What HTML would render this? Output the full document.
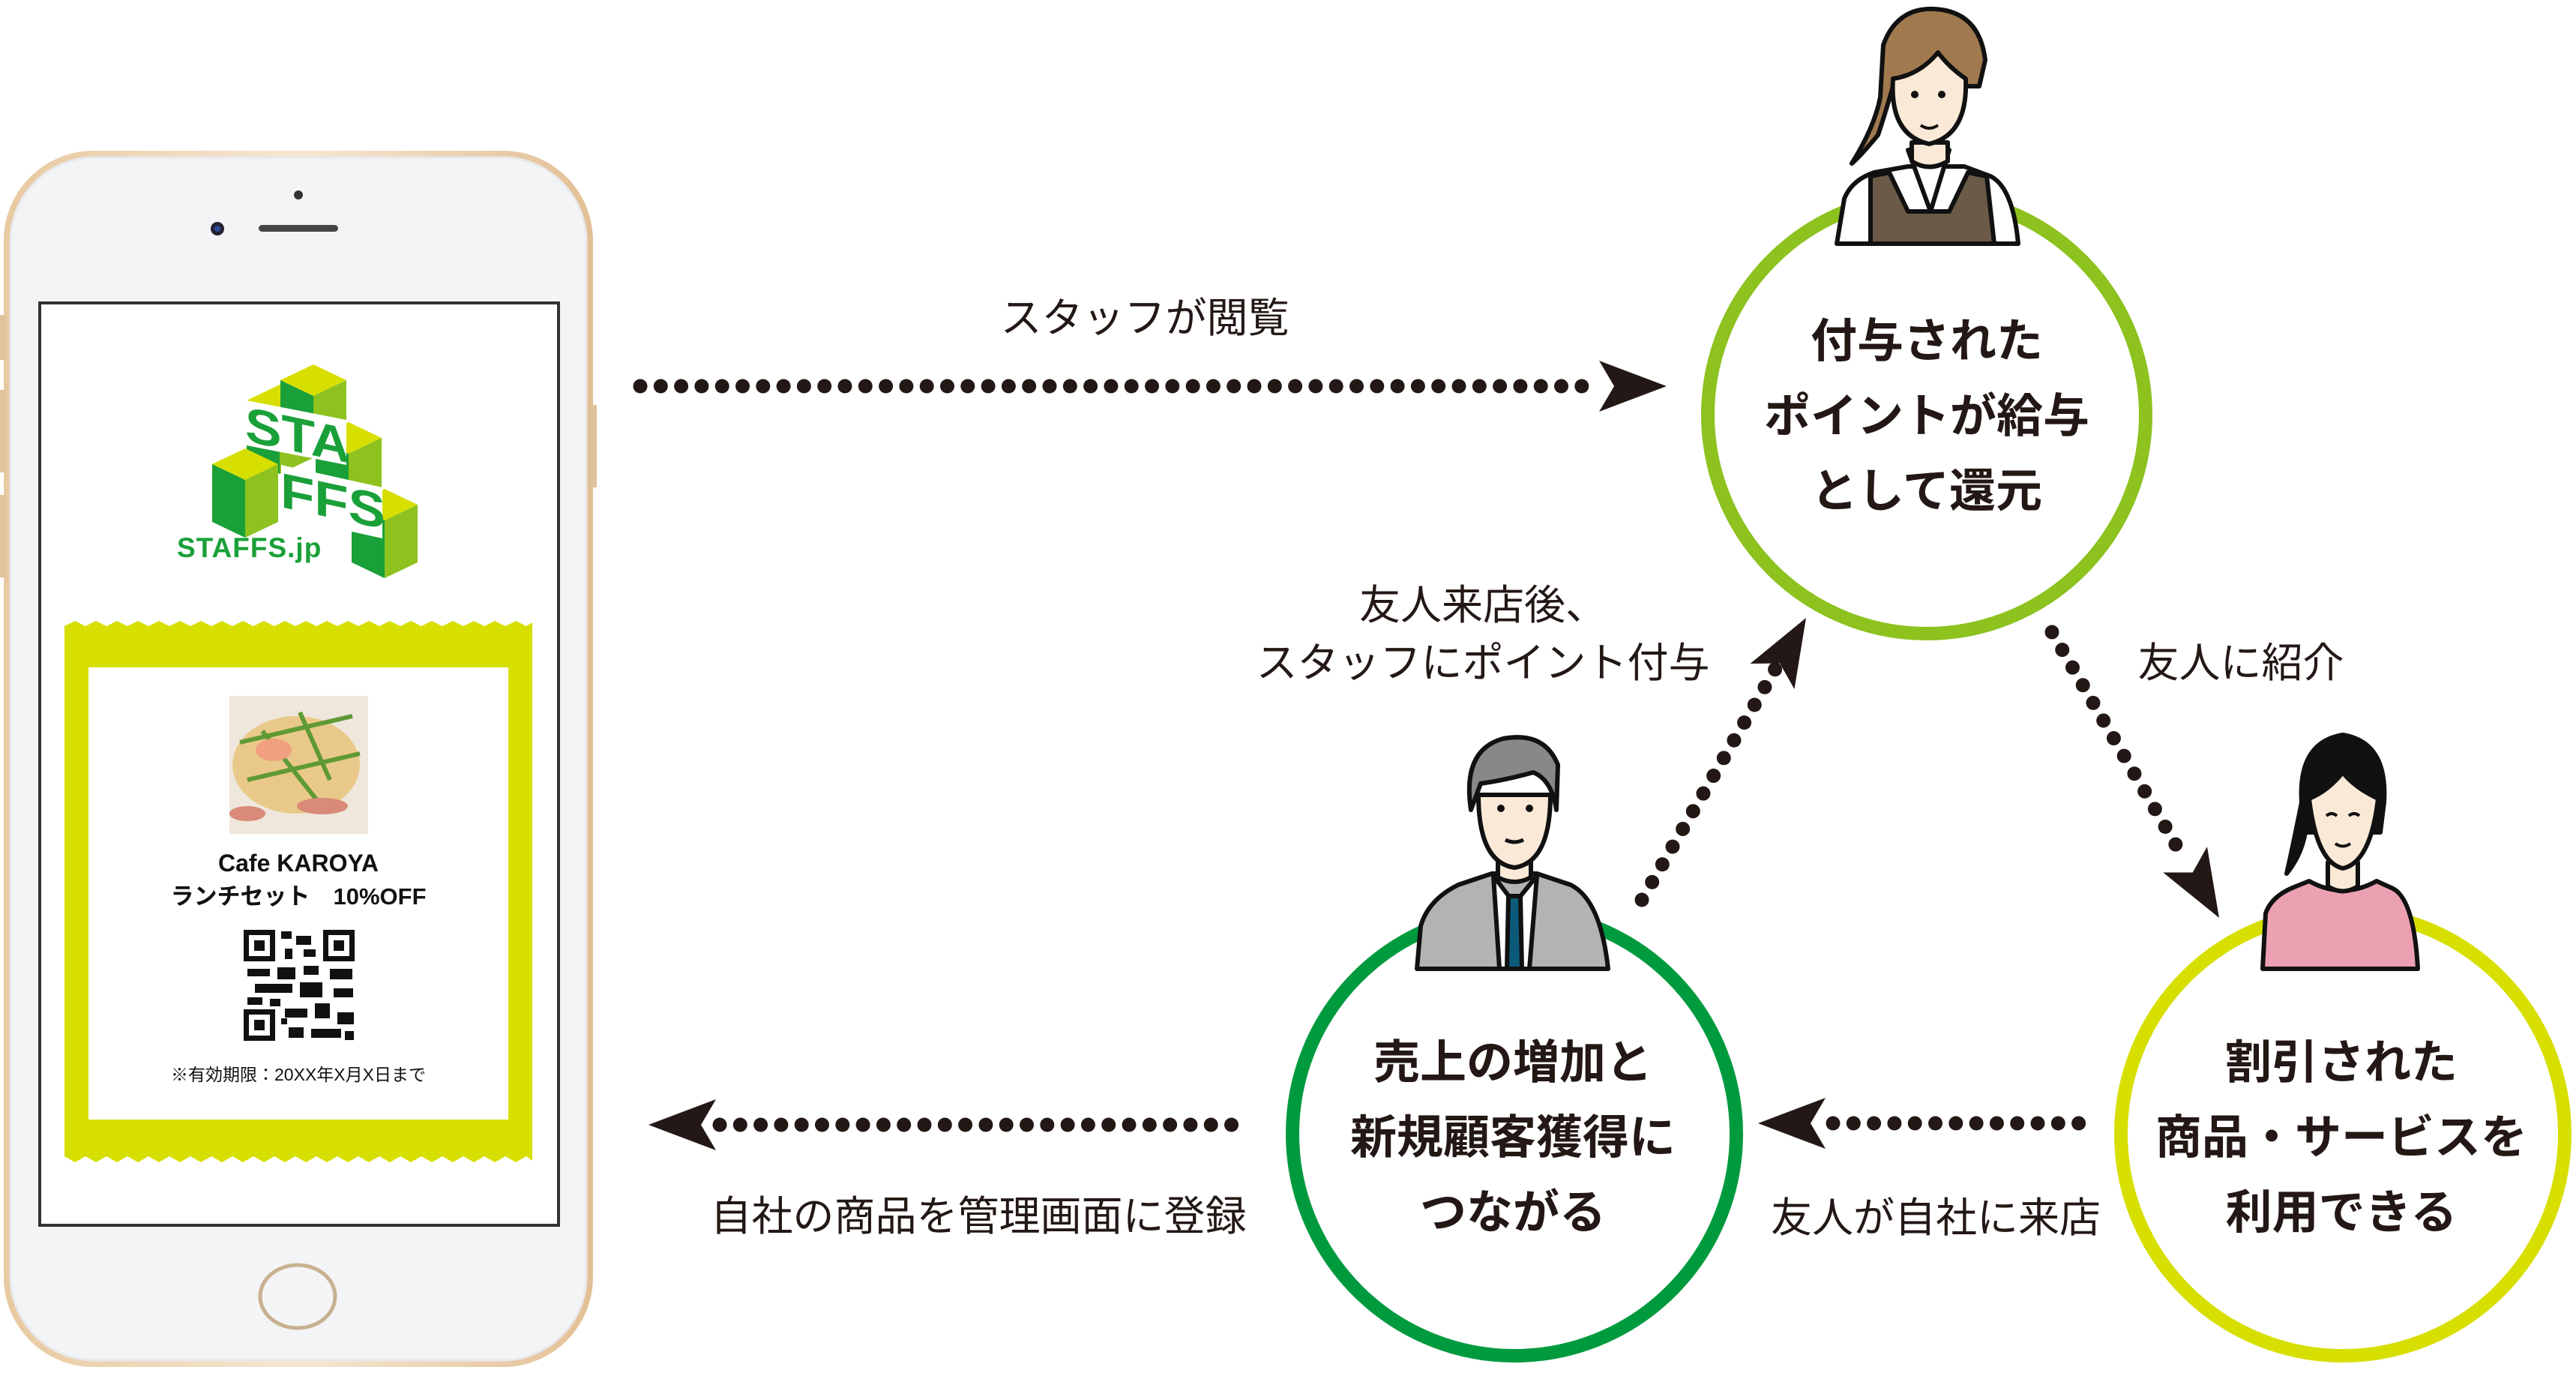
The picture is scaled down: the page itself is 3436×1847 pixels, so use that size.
<!DOCTYPE html>
<html><head><meta charset="utf-8">
<style>
html,body{margin:0;padding:0;background:#fff;}
body{width:3436px;height:1847px;overflow:hidden;position:relative;font-family:"Liberation Sans","Noto Sans CJK JP",sans-serif;}
svg{position:absolute;left:0;top:0;}
</style></head><body>
<svg width="3436" height="1847" viewBox="0 0 3436 1847" xmlns="http://www.w3.org/2000/svg">
<defs>
<linearGradient id="gold" x1="0" y1="0" x2="1" y2="0">
<stop offset="0" stop-color="#e8c9a0"/><stop offset="0.5" stop-color="#f6e7d2"/><stop offset="1" stop-color="#e2c096"/>
</linearGradient>
<g id="cube">
<polygon points="0,0 44,-21 88,0 44,21" fill="#d7df01"/>
<polygon points="0,0 44,21 44,98 0,77" fill="#1aa038"/>
<polygon points="44,21 88,0 88,77 44,98" fill="#8dc21f"/>
</g>
</defs>
<!-- PHONE -->
<rect x="5" y="201" width="786" height="1622" rx="120" fill="url(#gold)"/>
<rect x="14" y="210" width="768" height="1604" rx="112" fill="#f3f4f6" stroke="#e9e9ec" stroke-width="3"/>
<rect x="0" y="420" width="8" height="60" fill="#e0c29c"/>
<rect x="0" y="520" width="8" height="110" fill="#e0c29c"/>
<rect x="0" y="660" width="8" height="110" fill="#e0c29c"/>
<rect x="788" y="540" width="8" height="110" fill="#e0c29c"/>
<circle cx="398" cy="260" r="6" fill="#333"/>
<circle cx="290" cy="305" r="9" fill="#223" /><circle cx="290" cy="305" r="4" fill="#2b4a9a"/>
<rect x="345" y="300" width="106" height="9" rx="4.5" fill="#444"/>
<rect x="53" y="404" width="692" height="1230" fill="#fff" stroke="#333" stroke-width="4"/>
<ellipse cx="397" cy="1729" rx="50" ry="42" fill="#f3f4f6" stroke="#c8b190" stroke-width="5"/>
<!-- logo cubes -->
<use href="#cube" transform="translate(329 534)"/>
<use href="#cube" transform="translate(374 507)"/>
<use href="#cube" transform="translate(421 584)"/>
<use href="#cube" transform="translate(283 619)"/>
<use href="#cube" transform="translate(469 673)"/>
<polygon points="329,534 462,560 462,620 329,594" fill="#fff"/>
<polygon points="375,620 510,650 510,718 375,688" fill="#fff"/>
<text x="0" y="0" font-size="66" font-weight="900" fill="#1aa038" font-family="Liberation Sans,sans-serif" transform="translate(327 588) skewY(12)" textLength="140" lengthAdjust="spacingAndGlyphs">STA</text>
<text x="0" y="0" font-size="66" font-weight="900" fill="#1aa038" font-family="Liberation Sans,sans-serif" transform="translate(374 676) skewY(12)" textLength="140" lengthAdjust="spacingAndGlyphs">FFS</text>
<text x="236" y="743" font-size="37" font-weight="bold" fill="#1aa038" font-family="Liberation Sans,sans-serif" letter-spacing="1">STAFFS.jp</text>
<!-- coupon -->
<polygon points="86,835 100,828 114,835 128,828 142,835 156,828 170,835 184,828 198,835 212,828 226,835 240,828 254,835 268,828 282,835 296,828 310,835 324,828 338,835 352,828 366,835 380,828 394,835 408,828 422,835 436,828 450,835 464,828 478,835 492,828 506,835 520,828 534,835 548,828 562,835 576,828 590,835 604,828 618,835 632,828 646,835 660,828 674,835 688,828 702,835 710,830 710,1548 702,1542 688,1550 674,1542 660,1550 646,1542 632,1550 618,1542 604,1550 590,1542 576,1550 562,1542 548,1550 534,1542 520,1550 506,1542 492,1550 478,1542 464,1550 450,1542 436,1550 422,1542 408,1550 394,1542 380,1550 366,1542 352,1550 338,1542 324,1550 310,1542 296,1550 282,1542 268,1550 254,1542 240,1550 226,1542 212,1550 198,1542 184,1550 170,1542 156,1550 142,1542 128,1550 114,1542 100,1550 86,1542" fill="#d7df01"/>
<rect x="118" y="890" width="560" height="603" fill="#fff"/>
<rect x="306" y="928" width="185" height="184" fill="#efe7dc"/>
<ellipse cx="395" cy="1020" rx="85" ry="65" fill="#e9c98a"/>
<path d="M320 990 L470 955 M330 1040 L480 1005 M350 975 L425 1070 M400 950 L440 1040" stroke="#5f9a34" stroke-width="6"/>
<ellipse cx="365" cy="1000" rx="24" ry="15" fill="#f0a080"/>
<ellipse cx="430" cy="1075" rx="34" ry="11" fill="#d98a78"/>
<ellipse cx="330" cy="1085" rx="24" ry="10" fill="#d98a78"/>
<text x="398" y="1162" font-size="32" font-weight="bold" text-anchor="middle" fill="#111">Cafe KAROYA</text>
<text x="398" y="1206" font-size="31" font-weight="bold" text-anchor="middle" fill="#111">ランチセット　10%OFF</text>
<g fill="#111">
<rect x="325" y="1240" width="42" height="42"/><rect x="332" y="1247" width="28" height="28" fill="#fff"/><rect x="339" y="1254" width="14" height="14"/>
<rect x="431" y="1240" width="42" height="42"/><rect x="438" y="1247" width="28" height="28" fill="#fff"/><rect x="445" y="1254" width="14" height="14"/>
<rect x="325" y="1346" width="42" height="42"/><rect x="332" y="1353" width="28" height="28" fill="#fff"/><rect x="339" y="1360" width="14" height="14"/>
<rect x="375" y="1242" width="14" height="10"/><rect x="395" y="1248" width="20" height="12"/><rect x="380" y="1265" width="10" height="14"/><rect x="405" y="1266" width="16" height="10"/>
<rect x="330" y="1292" width="30" height="10"/><rect x="370" y="1290" width="24" height="16"/><rect x="405" y="1288" width="20" height="12"/><rect x="440" y="1292" width="30" height="14"/>
<rect x="340" y="1312" width="50" height="12"/><rect x="400" y="1310" width="30" height="20"/><rect x="445" y="1318" width="26" height="12"/>
<rect x="330" y="1330" width="20" height="10"/><rect x="360" y="1332" width="14" height="10"/><rect x="380" y="1345" width="30" height="12"/><rect x="420" y="1338" width="20" height="20"/><rect x="450" y="1350" width="22" height="16"/>
<rect x="385" y="1370" width="20" height="14"/><rect x="415" y="1372" width="40" height="12"/><rect x="460" y="1375" width="12" height="12"/><rect x="375" y="1358" width="8" height="8"/>
</g>
<text x="398" y="1441" font-size="23" text-anchor="middle" fill="#111">※有効期限：20XX年X月X日まで</text>

<!-- CIRCLES -->
<circle cx="2570" cy="553" r="292" fill="#fff" stroke="#8dc21f" stroke-width="18"/>
<circle cx="2020" cy="1512" r="296" fill="#fff" stroke="#009a3e" stroke-width="18"/>
<circle cx="3125" cy="1512" r="296" fill="#fff" stroke="#d7df01" stroke-width="18"/>

<!-- staff woman -->
<g stroke="#111" stroke-width="6" stroke-linejoin="round">
<path d="M2450 325 L2460 265 Q2470 240 2500 230 L2545 222 L2620 222 L2655 235 Q2685 250 2692 325 Z" fill="#fff"/>
<path d="M2495 325 L2495 235 L2520 230 L2545 282 L2600 282 L2625 230 L2650 235 L2660 325 Z" fill="#6b5a48"/>
<path d="M2545 200 L2575 282 L2600 200 Z" fill="#fff"/>
<path d="M2550 190 L2550 215 Q2573 230 2598 215 L2598 190 Z" fill="#fbe9d7"/>
<path d="M2512 60 Q2530 10 2580 12 Q2640 15 2648 80 L2640 115 L2525 115 Q2515 150 2505 180 Q2480 210 2470 218 Q2500 170 2508 130 Z" fill="#a0794f"/>
<path d="M2525 105 Q2520 180 2573 192 Q2625 180 2622 105 Q2600 90 2585 70 Q2560 100 2525 105 Z" fill="#fbe9d7"/>
</g>
<circle cx="2554" cy="126" r="5" fill="#111"/><circle cx="2590" cy="126" r="5" fill="#111"/>
<path d="M2562 167 Q2573 175 2585 167" stroke="#111" stroke-width="4" fill="none"/>

<!-- man -->
<g stroke="#111" stroke-width="6" stroke-linejoin="round">
<path d="M1890 1292 L1895 1235 Q1905 1200 1945 1180 L1990 1165 L2050 1165 L2095 1180 Q2135 1200 2145 1292 Z" fill="#b3b3b3"/>
<path d="M1992 1168 L2020 1205 L2050 1168 L2040 1292 L2000 1292 Z" fill="#fff"/>
<path d="M2012 1195 L2028 1195 L2030 1292 L2010 1292 Z" fill="#0c5a7a"/>
<path d="M1998 1130 L1998 1170 Q2020 1182 2042 1170 L2042 1130 Z" fill="#fbe9d7"/>
<path d="M1972 1060 Q1972 1150 2020 1157 Q2068 1150 2068 1060 Z" fill="#fbe9d7"/>
<path d="M1962 1080 Q1950 1000 2005 985 Q2060 975 2078 1020 L2076 1080 Q2070 1040 2045 1030 Q2010 1040 1975 1045 Z" fill="#888"/>
</g>
<circle cx="2002" cy="1078" r="5" fill="#111"/><circle cx="2040" cy="1078" r="5" fill="#111"/>
<path d="M2008 1120 Q2020 1126 2032 1120" stroke="#111" stroke-width="5" fill="none"/>

<!-- pink woman -->
<g stroke="#111" stroke-width="6" stroke-linejoin="round">
<path d="M3018 1292 L3022 1218 Q3030 1195 3060 1183 L3080 1175 Q3125 1200 3170 1175 L3192 1185 Q3220 1200 3225 1292 Z" fill="#eba1b1"/>
<path d="M3105 1150 L3105 1182 Q3125 1195 3145 1182 L3145 1150 Z" fill="#fbe9d7"/>
<path d="M3070 1070 Q3065 990 3125 980 Q3185 990 3180 1070 L3175 1110 L3075 1110 Q3070 1140 3050 1165 Q3058 1130 3070 1070 Z" fill="#111"/>
<path d="M3080 1065 Q3090 1150 3125 1158 Q3162 1150 3172 1065 Q3140 1050 3125 1030 Q3105 1055 3080 1065 Z" fill="#fbe9d7"/>
</g>
<path d="M3103 1088 Q3110 1082 3117 1088 M3133 1088 Q3140 1082 3147 1088" stroke="#111" stroke-width="4" fill="none"/>
<path d="M3115 1125 Q3125 1132 3135 1125" stroke="#111" stroke-width="4" fill="none"/>

<!-- DOTTED ARROWS -->
<g stroke="#231815" stroke-width="19" stroke-linecap="round" stroke-dasharray="0 27.3" fill="none">
<line x1="854" y1="515" x2="2120" y2="515"/>
<line x1="960" y1="1500" x2="1668" y2="1500"/>
<line x1="2445" y1="1498" x2="2786" y2="1498"/>
<line x1="2190" y1="1200" x2="2368" y2="892"/>
<line x1="2737" y1="843" x2="2910" y2="1140"/>
</g>
<g fill="#231815">
<polygon points="0,0 -90,-34 -70,0 -90,34" transform="translate(2223 515)"/>
<polygon points="0,0 -90,-34 -70,0 -90,34" transform="translate(865 1500) rotate(180)"/>
<polygon points="0,0 -90,-34 -70,0 -90,34" transform="translate(2345 1498) rotate(180)"/>
<polygon points="0,0 -90,-34 -70,0 -90,34" transform="translate(2409 824) rotate(-60)"/>
<polygon points="0,0 -90,-34 -70,0 -90,34" transform="translate(2960 1224) rotate(59.7)"/>
</g>

<!-- LABELS -->
<g font-size="55" fill="#231815" text-anchor="middle" font-family="Liberation Sans,'Noto Sans CJK JP',sans-serif">
<text x="1527" y="443">スタッフが閲覧</text>
<text x="1305" y="1641">自社の商品を管理画面に登録</text>
<text x="2582" y="1643">友人が自社に来店</text>
<text x="1978" y="826">友人来店後、</text>
<text x="1978" y="903">スタッフにポイント付与</text>
<text x="2989" y="903">友人に紹介</text>
</g>
<g font-size="62" font-weight="bold" fill="#231815" text-anchor="middle" font-family="Liberation Sans,'Noto Sans CJK JP',sans-serif">
<text x="2570" y="476">付与された</text>
<text x="2570" y="576">ポイントが給与</text>
<text x="2570" y="676">として還元</text>
<text x="2018" y="1438">売上の増加と</text>
<text x="2018" y="1538">新規顧客獲得に</text>
<text x="2018" y="1638">つながる</text>
<text x="3123" y="1438">割引された</text>
<text x="3123" y="1538">商品・サービスを</text>
<text x="3123" y="1638">利用できる</text>
</g>
</svg>
</body></html>
